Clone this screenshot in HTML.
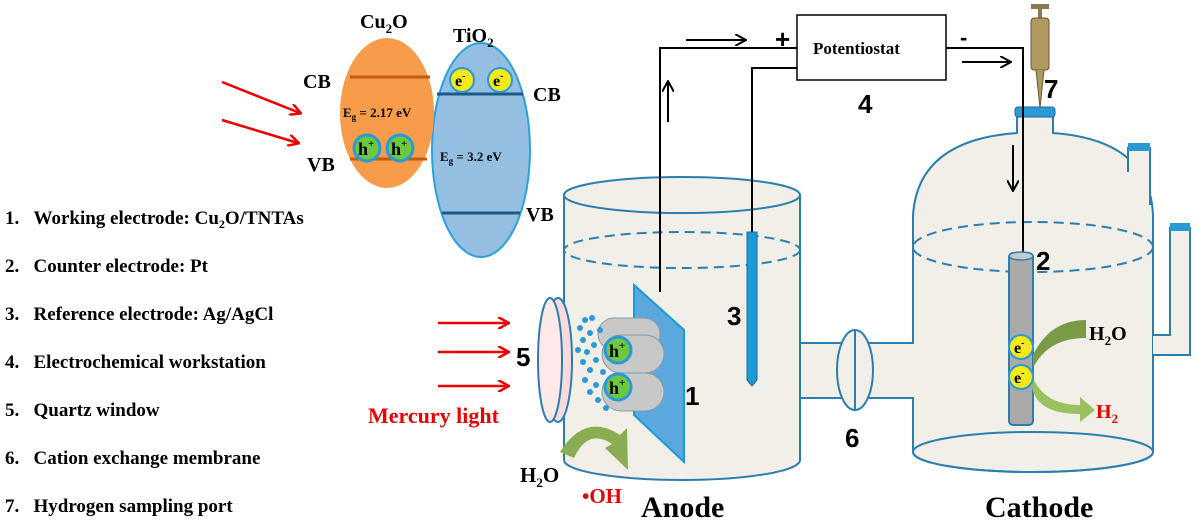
<!DOCTYPE html>
<html><head><style>
html,body{margin:0;padding:0;background:#fff;}
svg{display:block;}
text{font-family:"Liberation Serif",serif;font-weight:bold;}
.s{font-family:"Liberation Sans",sans-serif;font-weight:bold;}
</style></head><body>
<svg width="1197" height="528" viewBox="0 0 1197 528" xmlns="http://www.w3.org/2000/svg">
<defs>
<marker id="ra" markerWidth="12" markerHeight="12" refX="10" refY="6" orient="auto" markerUnits="userSpaceOnUse"><path d="M0,0 L11,6 L0,12" fill="none" stroke="#e00" stroke-width="2.5"/></marker>
<marker id="ka" markerWidth="12" markerHeight="12" refX="10" refY="6" orient="auto" markerUnits="userSpaceOnUse"><path d="M0,0 L11,6 L0,12" fill="none" stroke="#000" stroke-width="2"/></marker>
</defs>

<!-- band diagram -->
<ellipse cx="481" cy="150" rx="49" ry="107" fill="#95bfe0" stroke="#2aa0dd" stroke-width="2"/>
<ellipse cx="387" cy="113" rx="47" ry="75" fill="#f89b4a"/>
<line x1="350" y1="77" x2="430" y2="77" stroke="#c05a10" stroke-width="3"/>
<line x1="350" y1="159" x2="427" y2="159" stroke="#c05a10" stroke-width="3"/>
<line x1="437" y1="94" x2="523" y2="94" stroke="#1a5a88" stroke-width="3"/>
<line x1="442" y1="213" x2="520" y2="213" stroke="#1a5a88" stroke-width="3"/>
<text x="360" y="28" font-size="20">Cu<tspan font-size="13" dy="5">2</tspan><tspan dy="-5">O</tspan></text>
<text x="453" y="42" font-size="20">TiO<tspan font-size="13" dy="5">2</tspan></text>
<text x="303" y="88" font-size="20">CB</text>
<text x="307" y="171" font-size="20">VB</text>
<text x="533" y="101" font-size="20">CB</text>
<text x="526" y="221" font-size="20">VB</text>
<text x="343" y="117" font-size="13">E<tspan font-size="9" dy="3">g</tspan><tspan dy="-3"> = 2.17 eV</tspan></text>
<text x="440" y="161" font-size="13">E<tspan font-size="9" dy="3">g</tspan><tspan dy="-3"> = 3.2 eV</tspan></text>
<circle cx="367" cy="148" r="13" fill="#6cc840" stroke="#2a9ad6" stroke-width="3"/>
<circle cx="400" cy="148" r="13" fill="#6cc840" stroke="#2a9ad6" stroke-width="3"/>
<text x="358" y="155" font-size="18">h<tspan font-size="11" dy="-8">+</tspan></text>
<text x="391" y="155" font-size="18">h<tspan font-size="11" dy="-8">+</tspan></text>
<circle cx="462" cy="80" r="12" fill="#f2e81a" stroke="#2a9ad6" stroke-width="2"/>
<circle cx="500" cy="80" r="12" fill="#f2e81a" stroke="#2a9ad6" stroke-width="2"/>
<text x="455" y="86" font-size="16">e<tspan font-size="10" dy="-7">-</tspan></text>
<text x="493" y="86" font-size="16">e<tspan font-size="10" dy="-7">-</tspan></text>
<line x1="222" y1="82" x2="300" y2="113" stroke="#e00" stroke-width="2.5" marker-end="url(#ra)"/>
<line x1="222" y1="120" x2="298" y2="143" stroke="#e00" stroke-width="2.5" marker-end="url(#ra)"/>

<!-- list -->
<g font-size="19">
<text x="5" y="224">1.&#160;&#160;&#160;Working electrode: Cu<tspan font-size="12" dy="4">2</tspan><tspan dy="-4">O/TNTAs</tspan></text>
<text x="5" y="272">2.&#160;&#160;&#160;Counter electrode: Pt</text>
<text x="5" y="320">3.&#160;&#160;&#160;Reference electrode: Ag/AgCl</text>
<text x="5" y="368">4.&#160;&#160;&#160;Electrochemical workstation</text>
<text x="5" y="416">5.&#160;&#160;&#160;Quartz window</text>
<text x="5" y="464">6.&#160;&#160;&#160;Cation exchange membrane</text>
<text x="5" y="512">7.&#160;&#160;&#160;Hydrogen sampling port</text>
</g>

<!-- connecting tube -->
<rect x="795" y="343" width="125" height="55" fill="#f2efe8"/>
<line x1="798" y1="343" x2="917" y2="343" stroke="#2a7fb0" stroke-width="2"/>
<line x1="798" y1="398" x2="917" y2="398" stroke="#2a7fb0" stroke-width="2"/>
<ellipse cx="855" cy="370" rx="18" ry="40" fill="#f2efe8" stroke="#2a7fb0" stroke-width="2"/>
<line x1="855" y1="331" x2="855" y2="409" stroke="#2a7fb0" stroke-width="2"/>
<text class="s" x="845" y="447" font-size="26">6</text>

<!-- anode beaker -->
<path d="M564,195 L564,460 A118,20 0 0 0 800,460 L800,195 Z" fill="#f2efe8" stroke="#2a7fb0" stroke-width="2"/>
<ellipse cx="682" cy="195" rx="118" ry="18" fill="#f2efe8" stroke="#2a7fb0" stroke-width="2"/>
<ellipse cx="682" cy="250" rx="118" ry="18" fill="none" stroke="#2a7fb0" stroke-width="2" stroke-dasharray="10,6"/>
<rect x="801" y="344" width="6" height="53" fill="#f2efe8"/>

<!-- cathode -->
<path d="M913,215 Q918,140 1017,133 L1017,115 L1053,115 L1053,133 Q1150,140 1153,215 L1153,452 A120,20 0 0 1 913,452 Z" fill="#f2efe8" stroke="#2a7fb0" stroke-width="2"/>
<rect x="910" y="344" width="6" height="53" fill="#f2efe8"/>
<path d="M1128,172 L1128,148 L1150,148 L1150,205" fill="#f2efe8" stroke="#2a7fb0" stroke-width="2"/>
<rect x="1128" y="143" width="22" height="8" fill="#2a9ad6"/>
<path d="M1153,335 L1170,335 L1170,228 L1190,228 L1190,355 L1153,355" fill="#f2efe8" stroke="#2a7fb0" stroke-width="2"/>
<rect x="1170" y="223" width="20" height="8" fill="#2a9ad6"/>
<ellipse cx="1033" cy="247" rx="120" ry="25" fill="none" stroke="#2a7fb0" stroke-width="2" stroke-dasharray="10,6"/>
<ellipse cx="1033" cy="452" rx="120" ry="20" fill="none" stroke="#2a7fb0" stroke-width="2"/>
<rect x="1015" y="107" width="40" height="10" rx="3" fill="#2a9ad6" stroke="#1a6a9a"/>

<!-- syringe -->
<rect x="1031" y="4" width="18" height="5" fill="#8a7a50"/>
<rect x="1038" y="8" width="4" height="10" fill="#8a7a50"/>
<rect x="1031" y="18" width="18" height="52" rx="3" fill="#b09a60" stroke="#6a5a30"/>
<path d="M1036,70 L1040,108 L1044,70" fill="#b09a60" stroke="#6a5a30"/>
<text class="s" x="1044" y="98" font-size="26">7</text>

<!-- potentiostat & wires -->
<rect x="797" y="15" width="149" height="65" fill="#fff" stroke="#000" stroke-width="1.5"/>
<text x="813" y="54" font-size="17">Potentiostat</text>
<text class="s" x="775" y="48" font-size="26">+</text>
<text class="s" x="960" y="45" font-size="22">-</text>
<text class="s" x="858" y="113" font-size="26">4</text>
<polyline points="797,48 660,48 660,292" fill="none" stroke="#000" stroke-width="2"/>
<polyline points="797,68 752,68 752,232" fill="none" stroke="#000" stroke-width="2"/>
<polyline points="946,48 1023,48 1023,255" fill="none" stroke="#000" stroke-width="2"/>
<line x1="686" y1="40" x2="745" y2="40" stroke="#000" stroke-width="2" marker-end="url(#ka)"/>
<line x1="962" y1="62" x2="1010" y2="62" stroke="#000" stroke-width="2" marker-end="url(#ka)"/>
<line x1="668" y1="122" x2="668" y2="82" stroke="#000" stroke-width="2" marker-end="url(#ka)"/>
<line x1="1013" y1="145" x2="1013" y2="190" stroke="#000" stroke-width="2" marker-end="url(#ka)"/>

<!-- reference electrode -->
<path d="M747,232 L757,232 L757,380 L752,386 L747,380 Z" fill="#1a9ad6" stroke="#1a6a9a"/>
<text class="s" x="727" y="325" font-size="26">3</text>

<!-- counter electrode -->
<rect x="1009" y="253" width="24" height="172" rx="4" fill="#a9a9a9" stroke="#2a7fb0" stroke-width="2"/>
<ellipse cx="1021" cy="256" rx="12" ry="4" fill="#c8c8c8" stroke="#2a7fb0" stroke-width="1.5"/>
<text class="s" x="1036" y="270" font-size="26">2</text>
<path d="M1086,320 L1086,338 Q1048,338 1033,368 L1033,355 Q1050,320 1086,320 Z" fill="#7a9a48"/>
<path d="M1033,378 Q1045,405 1080,405 L1080,397 L1095,410 L1080,422 L1080,414 Q1038,414 1032,388 Z" fill="#9ac060"/>
<circle cx="1021" cy="347" r="12" fill="#f2e81a" stroke="#2a9ad6" stroke-width="2"/>
<circle cx="1021" cy="377" r="12" fill="#f2e81a" stroke="#2a9ad6" stroke-width="2"/>
<text x="1014" y="353" font-size="16">e<tspan font-size="10" dy="-7">-</tspan></text>
<text x="1014" y="383" font-size="16">e<tspan font-size="10" dy="-7">-</tspan></text>
<text x="1089" y="340" font-size="20">H<tspan font-size="13" dy="5">2</tspan><tspan dy="-5">O</tspan></text>
<text x="1096" y="418" font-size="20" fill="#e00">H<tspan font-size="13" dy="5">2</tspan></text>

<!-- working electrode -->
<path d="M634,285 L684,330 L684,462 L634,415 Z" fill="#5aa8de" stroke="#1a9ad6" stroke-width="2"/>
<g fill="#c8c8c8" stroke="#8a9aa8" stroke-width="1">
<rect x="598" y="318" width="62" height="32" rx="16"/>
<rect x="602" y="335" width="62" height="38" rx="19"/>
<rect x="602" y="373" width="62" height="38" rx="19"/>
</g>
<g fill="#2a9ad6">
<circle cx="585" cy="320" r="3"/><circle cx="592" cy="318" r="3"/><circle cx="580" cy="328" r="3"/><circle cx="590" cy="333" r="3"/>
<circle cx="583" cy="340" r="3"/><circle cx="594" cy="345" r="3"/><circle cx="587" cy="352" r="3"/><circle cx="596" cy="360" r="3"/>
<circle cx="583" cy="362" r="3"/><circle cx="590" cy="370" r="3"/><circle cx="585" cy="380" r="3"/><circle cx="596" cy="385" r="3"/>
<circle cx="590" cy="392" r="3"/><circle cx="598" cy="400" r="3"/><circle cx="606" cy="408" r="3"/><circle cx="600" cy="330" r="3"/>
<circle cx="578" cy="350" r="3"/><circle cx="603" cy="372" r="3"/>
</g>
<circle cx="618" cy="350" r="13" fill="#6cc840" stroke="#2a9ad6" stroke-width="3"/>
<circle cx="618" cy="387" r="13" fill="#6cc840" stroke="#2a9ad6" stroke-width="3"/>
<text x="609" y="357" font-size="18">h<tspan font-size="11" dy="-8">+</tspan></text>
<text x="609" y="394" font-size="18">h<tspan font-size="11" dy="-8">+</tspan></text>
<text class="s" x="685" y="405" font-size="26">1</text>

<!-- quartz window -->
<ellipse cx="558" cy="360" rx="14" ry="62" fill="#fadadd" stroke="#2a7fb0" stroke-width="2"/>
<ellipse cx="550" cy="360" rx="12" ry="62" fill="#fde8ea" stroke="#2a7fb0" stroke-width="2"/>
<text class="s" x="516" y="366" font-size="26">5</text>
<line x1="438" y1="323" x2="508" y2="323" stroke="#e00" stroke-width="2.5" marker-end="url(#ra)"/>
<line x1="438" y1="352" x2="508" y2="352" stroke="#e00" stroke-width="2.5" marker-end="url(#ra)"/>
<line x1="438" y1="386" x2="508" y2="386" stroke="#e00" stroke-width="2.5" marker-end="url(#ra)"/>
<text x="368" y="423" font-size="22" fill="#e00">Mercury light</text>

<!-- anode reaction -->
<path d="M560,452 Q585,412 620,435 L627,428 L628,470 L605,448 L612,444 Q588,428 574,458 Z" fill="#8aac52"/>
<text x="520" y="482" font-size="21">H<tspan font-size="13" dy="5">2</tspan><tspan dy="-5">O</tspan></text>
<text x="582" y="503" font-size="21" fill="#e00">•OH</text>
<text x="641" y="517" font-size="30">Anode</text>
<text x="985" y="517" font-size="30">Cathode</text>
</svg>
</body></html>
